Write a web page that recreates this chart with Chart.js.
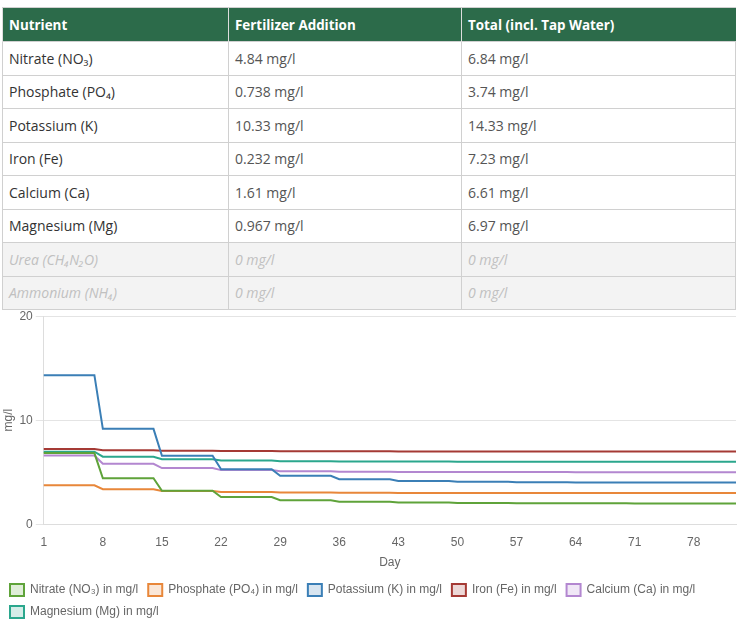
<!DOCTYPE html>
<html>
<head>
<meta charset="utf-8">
<script src="https://cdn.jsdelivr.net/npm/chart.js@4"></script>
<style>
  body { margin: 0; background: #fff; }
  #wrap { position: relative; width: 738px; height: 631px; overflow: hidden; }
  table {
    position: absolute; left: 2px; top: 7px; width: 734px; table-layout: fixed;
    border-collapse: collapse; font-family: "Open Sans", sans-serif; font-size: 14px;
  }
  th {
    background: #2c6b4a; color: #fff; font-weight: bold; text-align: left; font-size: 13.4px;
    height: 33px; padding: 0 5px 0 6px; border-left: 1px solid #ddd; border-top: 1px solid #d0d0d0;
  }
  td {
    height: 32.5px; padding: 0 5px 0 6px; border: 1px solid #d0d0d0; color: #555;
  }
  td:first-child { color: #333; }
  tr.off td { background: #f3f3f3; color: #c0c0c0; font-style: italic; }
  #chartBox { position: absolute; left: 0; top: 306px; }
</style>
</head>
<body>
<div id="wrap">
<table>
  <colgroup><col style="width:226px"><col style="width:233px"><col></colgroup>
  <tr><th>Nutrient</th><th>Fertilizer Addition</th><th>Total (incl. Tap Water)</th></tr>
  <tr><td>Nitrate (NO₃)</td><td>4.84 mg/l</td><td>6.84 mg/l</td></tr>
  <tr><td>Phosphate (PO₄)</td><td>0.738 mg/l</td><td>3.74 mg/l</td></tr>
  <tr><td>Potassium (K)</td><td>10.33 mg/l</td><td>14.33 mg/l</td></tr>
  <tr><td>Iron (Fe)</td><td>0.232 mg/l</td><td>7.23 mg/l</td></tr>
  <tr><td>Calcium (Ca)</td><td>1.61 mg/l</td><td>6.61 mg/l</td></tr>
  <tr><td>Magnesium (Mg)</td><td>0.967 mg/l</td><td>6.97 mg/l</td></tr>
  <tr class="off"><td>Urea (CH₄N₂O)</td><td>0 mg/l</td><td>0 mg/l</td></tr>
  <tr class="off"><td>Ammonium (NH₄)</td><td>0 mg/l</td><td>0 mg/l</td></tr>
</table>
<div id="chartBox"><canvas id="myChart" width="738" height="325"></canvas></div>
</div>
<script>
const numDays = 83;
const days = [];
for (let d = 1; d <= numDays; d++) days.push(String(d));

// weekly levels (value held for 7 days, then a water change)
const nitrate   = [6.84, 4.42, 3.21, 2.61, 2.30, 2.15, 2.08, 2.04, 2.02, 2.01, 2.00, 2.00];
const phosphate = [3.74, 3.37, 3.19, 3.09, 3.05, 3.02, 3.01, 3.01, 3.00, 3.00, 3.00, 3.00];
const potassium = [14.33, 9.17, 6.58, 5.29, 4.65, 4.32, 4.16, 4.08, 4.04, 4.02, 4.01, 4.00];
const iron      = [7.23, 7.12, 7.06, 7.03, 7.01, 7.01, 7.00, 7.00, 7.00, 7.00, 7.00, 7.00];
const calcium   = [6.61, 5.81, 5.40, 5.20, 5.10, 5.05, 5.03, 5.01, 5.01, 5.00, 5.00, 5.00];
const magnesium = [6.97, 6.49, 6.24, 6.12, 6.06, 6.03, 6.02, 6.01, 6.00, 6.00, 6.00, 6.00];

const yTicks = [0, 10, 20];

function daily(weeks) {
  return days.map((d, i) => weeks[Math.floor(i / 7)]);
}

function ds(label, weeks, color, fill) {
  return {
    label: label,
    data: daily(weeks),
    borderColor: color,
    backgroundColor: fill,
    borderWidth: 2,
    pointRadius: 0,
    tension: 0,
    fill: false
  };
}

const ctx = document.querySelector("#myChart");
const data = {
  labels: days,
  datasets: [
    ds('Nitrate (NO₃) in mg/l', nitrate, '#5fa33a', 'rgba(95,163,58,0.2)'),
    ds('Phosphate (PO₄) in mg/l', phosphate, '#e8873a', 'rgba(232,135,58,0.2)'),
    ds('Potassium (K) in mg/l', potassium, '#3b7fb6', 'rgba(59,127,182,0.2)'),
    ds('Iron (Fe) in mg/l', iron, '#a53a35', 'rgba(165,58,53,0.2)'),
    ds('Calcium (Ca) in mg/l', calcium, '#b387d0', 'rgba(179,135,208,0.2)'),
    ds('Magnesium (Mg) in mg/l', magnesium, '#2ba78d', 'rgba(43,167,141,0.2)')
  ]
};

const config = {
  type: 'line',
  data: data,
  options: {
    responsive: false,
    animation: false,
    layout: { padding: { left: 0, right: 2, top: 0, bottom: 3 } },
    scales: {
      x: {
        grid: { display: false },
        border: { color: '#ddd' },
        ticks: {
          color: '#666', font: { size: 12 }, padding: 3,
          autoSkip: false, maxRotation: 0,
          callback: function(v, i) { return i % 7 === 0 ? days[i] : null; }
        },
        title: { display: true, text: 'Day', color: '#666', font: { size: 12 }, padding: { top: 3, bottom: 4 } }
      },
      y: {
        min: yTicks[0], max: yTicks[yTicks.length - 1],
        grid: { color: '#e4e4e4' },
        border: { color: '#ddd' },
        ticks: { stepSize: 10, color: '#666', font: { size: 12 } },
        title: { display: true, text: 'mg/l', color: '#666', font: { size: 12 }, padding: { top: 1, bottom: 1 } }
      }
    },
    plugins: {
      legend: {
        position: 'bottom',
        align: 'start',
        labels: { boxWidth: 14, boxHeight: 12, padding: 10, color: '#666', font: { size: 12 } }
      },
      tooltip: { enabled: false }
    }
  }
};

new Chart(ctx, config);
</script>
</body>
</html>
